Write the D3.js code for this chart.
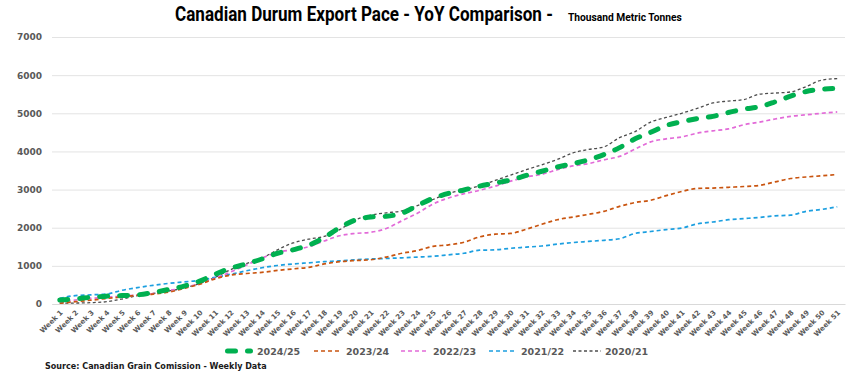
<!DOCTYPE html>
<html>
<head>
<meta charset="utf-8">
<script src="https://cdn.jsdelivr.net/npm/d3@7"></script>
<style>
  body { margin: 0; background: #fff; }
  svg { display: block; }
</style>
</head>
<body>
<div id="chart"></div>
<script>
// weekly cumulative exports, thousand metric tonnes
const weeks = d3.range(1, 52).map(i => `Week ${i}`);
const yTicks = [0, 1000, 2000, 3000, 4000, 5000, 6000, 7000];

const s2024 = [105, 135, 175, 205, 220, 240, 300, 380, 470, 600, 780, 940, 1050, 1180, 1330, 1420, 1540, 1740, 2000, 2200,
  2280, 2300, 2380, 2580, 2770, 2900, 2990, 3090, 3170, 3250, 3370, 3480, 3590, 3680, 3780, 3920, 4100, 4330, 4500, 4680,
  4780, 4860, 4920, 5020, 5110, 5170, 5300, 5450, 5570, 5630, 5650];
const s2023 = [20, 60, 100, 145, 185, 230, 260, 310, 410, 520, 660, 760, 800, 830, 880, 920, 960, 1050, 1110, 1140,
  1160, 1230, 1330, 1400, 1510, 1550, 1620, 1760, 1830, 1850, 1960, 2090, 2210, 2280, 2350, 2430, 2560, 2660, 2720, 2840,
  2950, 3030, 3040, 3060, 3080, 3110, 3200, 3290, 3330, 3360, 3395];
const s2022 = [40, 105, 145, 175, 205, 235, 275, 350, 430, 540, 680, 840, 1020, 1200, 1360, 1420, 1500, 1650, 1790, 1850,
  1880, 1980, 2180, 2380, 2620, 2780, 2890, 2980, 3090, 3220, 3330, 3400, 3520, 3620, 3680, 3780, 3870, 4060, 4250, 4330,
  4380, 4480, 4540, 4590, 4700, 4770, 4850, 4920, 4960, 5000, 5035];
const s2021 = [150, 220, 240, 260, 360, 430, 490, 540, 580, 620, 700, 780, 870, 950, 1010, 1050, 1080, 1110, 1130, 1160,
  1180, 1195, 1210, 1230, 1250, 1290, 1330, 1410, 1420, 1460, 1490, 1520, 1570, 1610, 1640, 1670, 1710, 1850, 1900, 1950,
  1990, 2100, 2150, 2210, 2240, 2270, 2310, 2330, 2430, 2480, 2550];
const s2020 = [20, 25, 35, 60, 130, 220, 275, 340, 420, 540, 700, 900, 1060, 1200, 1420, 1600, 1700, 1770, 1950, 2200,
  2330, 2390, 2440, 2580, 2740, 2900, 2990, 3100, 3240, 3380, 3520, 3650, 3790, 3960, 4050, 4120, 4360, 4520, 4770, 4890,
  5000, 5130, 5270, 5320, 5360, 5500, 5530, 5560, 5700, 5870, 5910];

const seriesNames = ['2024/25', '2023/24', '2022/23', '2021/22', '2020/21'];
const seriesValues = [s2024, s2023, s2022, s2021, s2020];

const styles = {
  '2024/25': { color: '#00b050', width: 5, dash: '8,12', cap: 'round' },
  '2023/24': { color: '#c9540f', width: 1.7, dash: '4,3', cap: 'butt' },
  '2022/23': { color: '#e26ad8', width: 1.7, dash: '4,3', cap: 'butt' },
  '2021/22': { color: '#1c9fe0', width: 1.7, dash: '4,3', cap: 'butt' },
  '2020/21': { color: '#4d4d4d', width: 1.3, dash: '3,2.5', cap: 'butt' },
};

const width = 861, height = 372;
const margin = { top: 37, right: 16, bottom: 68, left: 52 };
const labelFont = '"DejaVu Sans", sans-serif';

const svg = d3.select('#chart').append('svg')
  .attr('width', width)
  .attr('height', height);

const x = d3.scalePoint()
  .domain(weeks)
  .range([margin.left, width - margin.right])
  .padding(0.5);

const y = d3.scaleLinear()
  .domain([0, 7000])
  .range([height - margin.bottom, margin.top]);

// squeeze a text horizontally to a target width (condensed look)
function fitText(sel, px, py, targetW) {
  const w = sel.node().getComputedTextLength();
  sel.attr('transform', `translate(${px},${py}) scale(${targetW / w},1)`);
}

// title
const title = svg.append('text')
  .attr('font-family', 'Roboto, sans-serif')
  .attr('font-weight', 700)
  .attr('font-size', 19.5)
  .attr('fill', '#000')
  .text('Canadian Durum Export Pace - YoY Comparison -');
fitText(title, 175, 21, 378);

const subtitle = svg.append('text')
  .attr('font-family', 'Roboto, sans-serif')
  .attr('font-weight', 700)
  .attr('font-size', 11.5)
  .attr('fill', '#000')
  .text('Thousand Metric Tonnes');
fitText(subtitle, 568, 21, 114);

// gridlines + y labels
const yAxis = svg.append('g')
  .attr('transform', `translate(${margin.left},0)`)
  .call(d3.axisLeft(y).tickValues(yTicks).tickSize(-(width - margin.left - margin.right)).tickFormat(d3.format('d')));
yAxis.select('.domain').remove();
yAxis.selectAll('.tick line').attr('stroke', '#e3e3e3').attr('stroke-width', 1);
yAxis.selectAll('.tick text')
  .attr('x', -10)
  .attr('fill', '#595959')
  .attr('font-family', labelFont)
  .attr('font-weight', 700)
  .attr('font-size', 9);

// x axis
const xAxis = svg.append('g')
  .attr('transform', `translate(0,${y(0)})`)
  .call(d3.axisBottom(x).tickSize(0));
xAxis.select('.domain').attr('stroke', '#d9d9d9');
xAxis.selectAll('.tick text')
  .attr('text-anchor', 'end')
  .attr('fill', '#595959')
  .attr('font-family', labelFont)
  .attr('font-weight', 700)
  .attr('font-size', 7)
  .attr('dy', 0)
  .attr('y', 0)
  .attr('transform', 'translate(3,9) rotate(-45)');

// lines
const line = d3.line()
  .x((d, i) => x(weeks[i]))
  .y(d => y(d))
  .curve(d3.curveMonotoneX);

const drawOrder = [4, 3, 2, 1, 0];
svg.append('g')
  .selectAll('path')
  .data(drawOrder)
  .join('path')
  .attr('d', i => line(seriesValues[i]))
  .attr('fill', 'none')
  .attr('stroke', i => styles[seriesNames[i]].color)
  .attr('stroke-width', i => styles[seriesNames[i]].width)
  .attr('stroke-dasharray', i => styles[seriesNames[i]].dash)
  .attr('stroke-linecap', i => styles[seriesNames[i]].cap);

// legend
const legendX = [225, 314, 401, 489, 573];
const legend = svg.append('g').attr('transform', 'translate(0,351)');
seriesNames.forEach((name, i) => {
  const st = styles[name];
  const g = legend.append('g').attr('transform', `translate(${legendX[i]},0)`);
  const inset = st.cap === 'round' ? st.width / 2 : 0;
  g.append('line')
    .attr('x1', inset).attr('x2', 28 - inset)
    .attr('y1', 0).attr('y2', 0)
    .attr('stroke', st.color)
    .attr('stroke-width', st.width)
    .attr('stroke-dasharray', st.cap === 'round' ? '8,12' : st.dash)
    .attr('stroke-linecap', st.cap);
  g.append('text')
    .attr('x', 32).attr('y', 3.5)
    .attr('fill', '#595959')
    .attr('font-family', labelFont)
    .attr('font-weight', 700)
    .attr('font-size', 9.5)
    .text(name);
});

// source
const source = svg.append('text')
  .attr('font-family', labelFont)
  .attr('font-weight', 700)
  .attr('font-size', 8.5)
  .attr('fill', '#1a1a1a')
  .text('Source: Canadian Grain Comission - Weekly Data');
fitText(source, 45, 369, 222);
</script>
</body>
</html>
